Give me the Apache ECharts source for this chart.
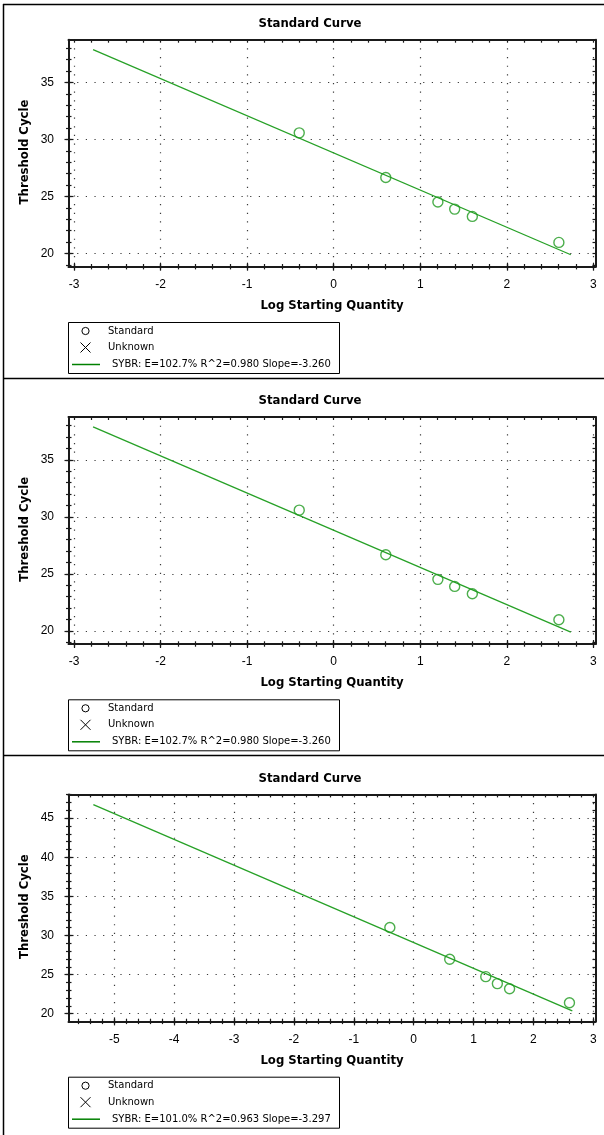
<!DOCTYPE html>
<html>
<head>
<meta charset="utf-8">
<script src="https://cdn.jsdelivr.net/npm/echarts@6/dist/echarts.min.js"></script>
<style>
  html, body { margin: 0; padding: 0; background: #fff; }
  #chart { width: 604px; height: 1135px; }
</style>
</head>
<body>
<div id="chart"></div>
<script>
// log10 of the starting quantity of each standard
const logQuantity = [-0.398, 0.602, 1.204, 1.398, 1.602, 2.602];
// threshold cycles of the standards, plate A and plate B
const ctPlateA = [30.58, 26.67, 24.51, 23.89, 23.25, 20.97];
const ctPlateB = [31.03, 26.97, 24.74, 23.85, 23.20, 21.41];

// fitted standard curves (slope, intercept) and the x span drawn
const slopeA = -3.260, interceptA = 28.82;
const fitSpanA = [-2.78, 2.74];
const slopeB = -3.297, interceptB = 29.10;
const fitSpanB = [-5.35, 2.65];

const fitLabelA = 'SYBR: E=102.7% R^2=0.980 Slope=-3.260';
const fitLabelB = 'SYBR: E=101.0% R^2=0.963 Slope=-3.297';

// axis tick labels and extents
const xTicksA = [-3, -2, -1, 0, 1, 2, 3];
const yTicksA = [20, 25, 30, 35];
const xExtentA = [-3.064, 3.025];
const yExtentA = [18.84, 38.75];
const xTicksB = [-5, -4, -3, -2, -1, 0, 1, 2, 3];
const yTicksB = [20, 25, 30, 35, 40, 45];
const xExtentB = [-5.765, 3.037];
const yExtentB = [19.02, 48.04];

const chart = echarts.init(document.getElementById('chart'), null, { renderer: 'canvas' });

const AXIS_COLOR = '#1a1a1a';
const CURVE_COLOR = '#27a127';
const LABEL_FONT = 'Liberation Sans';
const BOLD_FONT = 'bold 11.7px "DejaVu Sans"';

function stepValues(ext, step) {
  const out = [];
  const start = Math.ceil(ext[0] / step - 1e-9);
  const end = Math.floor(ext[1] / step + 1e-9);
  for (let k = start; k <= end; k++) out.push(Math.round(k * step * 1000) / 1000);
  return out;
}

function plainAxis(gi, ext, position) {
  return {
    type: 'value', gridIndex: gi, position: position, min: ext[0], max: ext[1],
    axisLine: { show: false, onZero: false },
    axisLabel: { show: false },
    splitLine: { show: false },
    axisTick: { show: false }
  };
}

function tickAxis(gi, ext, position, values, inside, length, withLine) {
  const a = plainAxis(gi, ext, position);
  a.axisTick = { show: true, inside: inside, length: length, customValues: values,
    lineStyle: { color: AXIS_COLOR, width: 1.2 } };
  if (withLine) a.axisLine = { show: true, onZero: false, lineStyle: { color: AXIS_COLOR, width: 2 } };
  return a;
}

const grids = [], xAxes = [], yAxes = [], series = [], graphics = [];

function addPanel(top, xTicks, yTicks, xExt, yExt, ct, slope, intercept, span, fitLabel) {
  const gi = grids.length;
  grids.push({ left: 68.5, width: 527, top: top + 39.7, height: 227, containLabel: false, outerBoundsMode: 'none' });

  const xMinor = stepValues(xExt, 0.2);
  const yMinor = stepValues(yExt, 1);

  // bottom axis with labels and dotted vertical grid
  const xMain = tickAxis(gi, xExt, 'bottom', xTicks, false, 4, true);
  xMain.axisLabel = { show: true, customValues: xTicks, margin: 12, color: '#000',
    fontFamily: LABEL_FONT, fontSize: 12 };
  xMain.splitLine = { show: true, lineStyle: { color: '#3a3a3a', width: 1.2, type: [1.2, 7.45] } };
  const xIdx = xAxes.length;
  xAxes.push(xMain);
  xAxes.push(tickAxis(gi, xExt, 'bottom', xTicks, true, 4, false));
  xAxes.push(tickAxis(gi, xExt, 'bottom', xMinor, false, 2.7, false));
  xAxes.push(tickAxis(gi, xExt, 'bottom', xMinor, true, 2.7, false));
  xAxes.push(tickAxis(gi, xExt, 'top', xMinor, true, 3, true));

  // left axis with labels and dotted horizontal grid
  const yMain = tickAxis(gi, yExt, 'left', yTicks, false, 4, true);
  yMain.axisLabel = { show: true, customValues: yTicks, margin: 14.5, color: '#000',
    fontFamily: LABEL_FONT, fontSize: 12 };
  yMain.splitLine = { show: true, lineStyle: { color: '#3a3a3a', width: 1.2, type: [1.2, 7.45] } };
  const yIdx = yAxes.length;
  yAxes.push(yMain);
  yAxes.push(tickAxis(gi, yExt, 'left', yTicks, true, 5, false));
  yAxes.push(tickAxis(gi, yExt, 'left', yMinor, false, 2.5, false));
  yAxes.push(tickAxis(gi, yExt, 'left', yMinor, true, 3, false));
  yAxes.push(tickAxis(gi, yExt, 'right', yMinor, true, 3, true));

  // regression line of the standard curve
  series.push({
    type: 'line', xAxisIndex: xIdx, yAxisIndex: yIdx, silent: true, animation: false,
    showSymbol: false, symbol: 'none', z: 2,
    lineStyle: { color: CURVE_COLOR, width: 1.3 },
    data: span.map(x => [x, intercept + slope * x])
  });
  // standards
  series.push({
    type: 'scatter', xAxisIndex: xIdx, yAxisIndex: yIdx, silent: true, animation: false,
    symbol: 'circle', symbolSize: 10, z: 3,
    itemStyle: { color: 'rgba(0,0,0,0)', borderColor: '#1f9a1f', borderWidth: 1.4 },
    data: logQuantity.map((x, k) => [x, ct[k]])
  });

  // title and axis names
  graphics.push({ type: 'text', x: 310, y: top + 24,
    style: { text: 'Standard Curve', font: BOLD_FONT, fill: '#000', align: 'center', verticalAlign: 'middle' } });
  graphics.push({ type: 'text', x: 332, y: top + 306,
    style: { text: 'Log Starting Quantity', font: BOLD_FONT, fill: '#000', align: 'center', verticalAlign: 'middle' } });
  graphics.push({ type: 'text', x: 25, y: top + 152, rotation: Math.PI / 2,
    style: { text: 'Threshold Cycle', font: BOLD_FONT, fill: '#000', align: 'center', verticalAlign: 'middle' } });

  // legend box
  const lt = top + 322.5;
  const legendFont = '10px "DejaVu Sans"';
  graphics.push({ type: 'rect', shape: { x: 68.5, y: lt, width: 271, height: 51 },
    style: { fill: '#fff', stroke: '#000', lineWidth: 1 } });
  graphics.push({ type: 'circle', shape: { cx: 85.5, cy: lt + 8.5, r: 3.6 },
    style: { fill: 'none', stroke: '#000', lineWidth: 1 } });
  graphics.push({ type: 'line', shape: { x1: 80.5, y1: lt + 20, x2: 90.5, y2: lt + 30 },
    style: { stroke: '#000', lineWidth: 1 } });
  graphics.push({ type: 'line', shape: { x1: 90.5, y1: lt + 20, x2: 80.5, y2: lt + 30 },
    style: { stroke: '#000', lineWidth: 1 } });
  graphics.push({ type: 'line', shape: { x1: 72, y1: lt + 42, x2: 100, y2: lt + 42 },
    style: { stroke: '#008000', lineWidth: 1.5 } });
  graphics.push({ type: 'text', x: 108, y: lt + 8.5,
    style: { text: 'Standard', font: legendFont, fill: '#000', verticalAlign: 'middle' } });
  graphics.push({ type: 'text', x: 108, y: lt + 25,
    style: { text: 'Unknown', font: legendFont, fill: '#000', verticalAlign: 'middle' } });
  graphics.push({ type: 'text', x: 112, y: lt + 42,
    style: { text: fitLabel, font: legendFont, fill: '#000', verticalAlign: 'middle' } });
}

const panelTops = [0, 377.3, 754.7];
addPanel(panelTops[0], xTicksA, yTicksA, xExtentA, yExtentA, ctPlateA, slopeA, interceptA, fitSpanA, fitLabelA);
addPanel(panelTops[1], xTicksA, yTicksA, xExtentA, yExtentA, ctPlateA, slopeA, interceptA, fitSpanA, fitLabelA);
addPanel(panelTops[2], xTicksB, yTicksB, xExtentB, yExtentB, ctPlateB, slopeB, interceptB, fitSpanB, fitLabelB);

// panel frames
const frameStyle = { stroke: '#000', lineWidth: 1.5 };
graphics.push({ type: 'line', shape: { x1: 3, y1: 4.5, x2: 604, y2: 4.5 }, style: frameStyle });
graphics.push({ type: 'line', shape: { x1: 3.5, y1: 4, x2: 3.5, y2: 1135 }, style: frameStyle });
graphics.push({ type: 'line', shape: { x1: 3, y1: 378.5, x2: 604, y2: 378.5 }, style: frameStyle });
graphics.push({ type: 'line', shape: { x1: 3, y1: 755.5, x2: 604, y2: 755.5 }, style: frameStyle });

chart.setOption({
  animation: false,
  backgroundColor: '#fff',
  grid: grids,
  xAxis: xAxes,
  yAxis: yAxes,
  series: series,
  graphic: { elements: graphics }
});
</script>
</body>
</html>
